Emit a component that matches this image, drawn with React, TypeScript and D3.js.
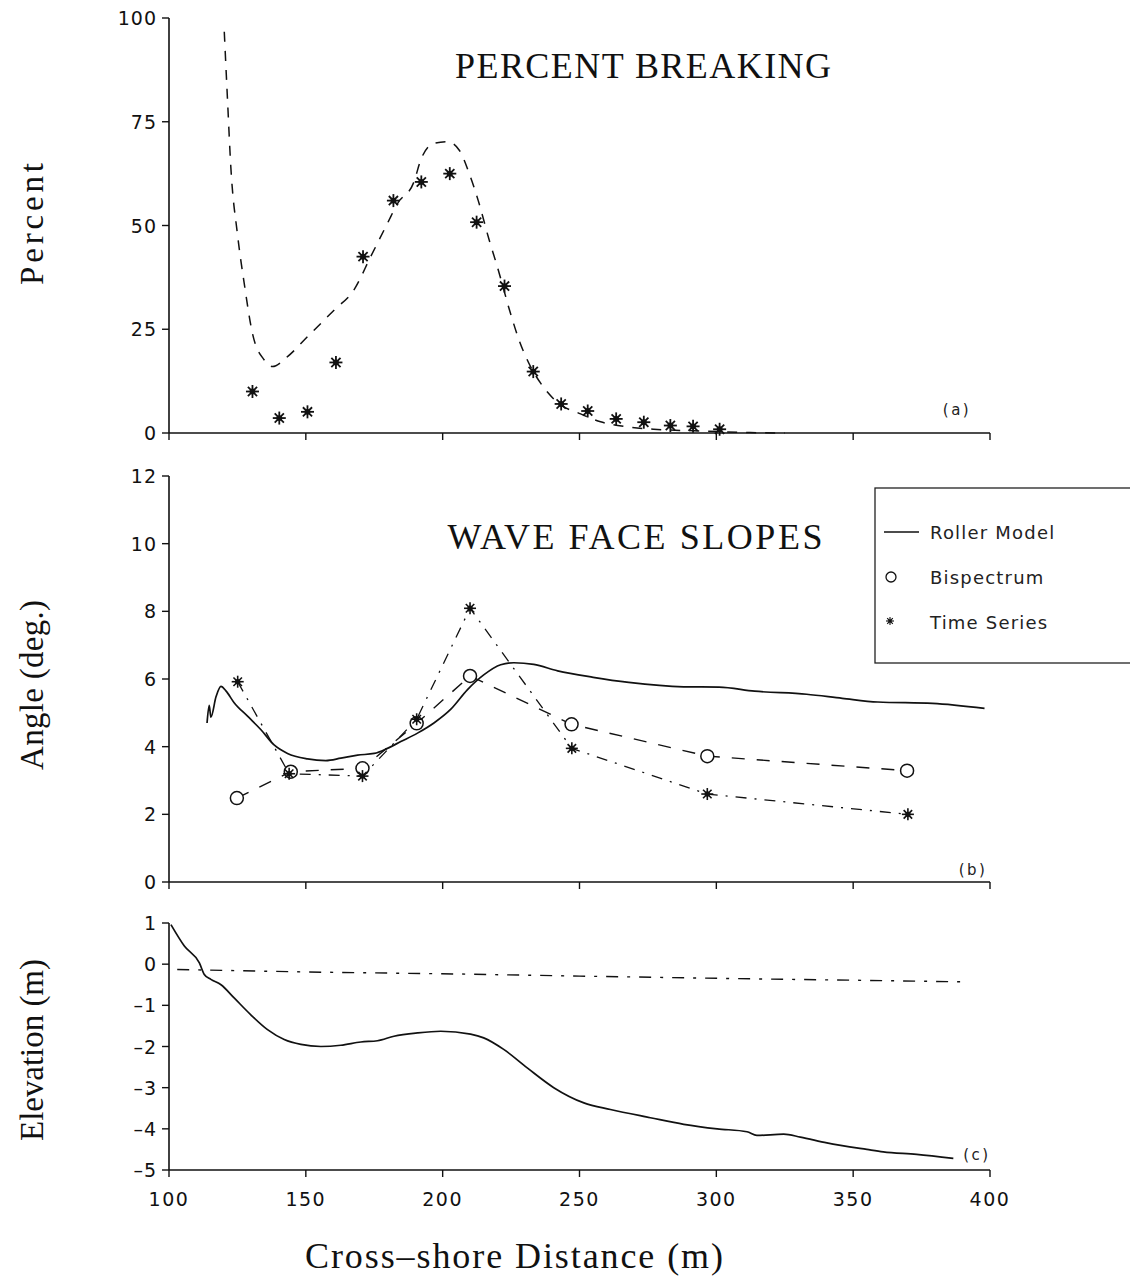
import React, { useRef, useEffect } from 'react';
import * as d3 from 'd3';

// x values are cross-shore distance (m)
const xTicks = [100, 150, 200, 250, 300, 350, 400];

// (a) percent breaking
const pctTicks = [0, 25, 50, 75, 100];
const breakX = [130.5, 140.3, 150.6, 161, 170.9, 182, 192.2, 202.6, 212.4, 222.6, 233.1, 243.3, 253, 263.4, 273.5, 283.2, 291.5, 301.2];
const breakPct = [10, 3.6, 5.1, 17, 42.5, 56, 60.5, 62.5, 50.8, 35.4, 14.8, 7, 5.3, 3.4, 2.6, 1.8, 1.6, 0.9];
const modelX = [120.2, 121.4, 122.6, 125, 127.5, 130.5, 134.8, 137.8, 143.3, 150.6, 160.3, 167.6, 173.7, 179.8, 183.5, 189.5, 192, 196.8, 201.7, 206, 210, 213, 217, 220, 224.8, 227.9, 231.5, 235.8, 241.9, 250.4, 257.7, 267.4, 277.1, 294.2, 312.4, 325];
const modelPct = [96.7, 80, 64, 48, 36, 24, 17.6, 16, 18.4, 23.2, 29.6, 34.5, 42.5, 50.5, 55.3, 60.5, 65.8, 69.8, 70.2, 68.2, 62, 56, 46.5, 40, 28.8, 22.4, 16.8, 12, 7.4, 4.6, 2.7, 1.5, 0.9, 0.5, 0.1, 0];

// (b) wave face slopes
const angTicks = [0, 2, 4, 6, 8, 10, 12];
const rollerX = [113.9, 114.7, 115.3, 117.2, 119, 120.8, 123.8, 128.7, 133.6, 138.4, 143.3, 150.6, 157.3, 162.8, 168.9, 175, 179.8, 184.7, 190.8, 196.8, 202.9, 209, 215, 221.2, 226, 233.3, 242, 255, 268, 288, 301, 314, 333, 346, 359, 379, 398];
const rollerAng = [4.7, 5.22, 4.87, 5.48, 5.78, 5.65, 5.3, 4.9, 4.5, 4.05, 3.8, 3.64, 3.59, 3.66, 3.75, 3.8, 3.95, 4.15, 4.4, 4.7, 5.1, 5.68, 6.12, 6.42, 6.48, 6.43, 6.24, 6.05, 5.9, 5.77, 5.76, 5.64, 5.55, 5.43, 5.32, 5.28, 5.13];
const bispX = [124.8, 144.5, 170.7, 190.5, 210, 247.1, 296.7, 369.7];
const bispAng = [2.48, 3.26, 3.36, 4.69, 6.09, 4.66, 3.72, 3.29];
const tsX = [125.1, 143.9, 170.7, 190.5, 210, 247.2, 296.7, 370];
const tsAng = [5.92, 3.2, 3.13, 4.81, 8.09, 3.95, 2.6, 2.0];

// (c) elevation
const elevTicks = [1, 0, -1, -2, -3, -4, -5];
const bathX = [100.7, 105.6, 111.1, 112.9, 115.3, 119, 123.8, 129.9, 136, 142.1, 148.2, 155.5, 162.8, 170.1, 176.2, 182.2, 190.8, 199.3, 210.2, 215, 222.3, 230.9, 240.6, 251.6, 261.3, 275.9, 288.1, 300.3, 311.2, 314.8, 324.6, 330.7, 340.4, 355, 361, 373.2, 386.6];
const bathZ = [0.96, 0.44, 0.03, -0.25, -0.37, -0.5, -0.82, -1.23, -1.59, -1.83, -1.95, -2.0, -1.97, -1.89, -1.86, -1.75, -1.67, -1.63, -1.7, -1.79, -2.07, -2.52, -3.0, -3.37, -3.53, -3.73, -3.89, -4.0, -4.07, -4.16, -4.13, -4.2, -4.34, -4.5, -4.56, -4.62, -4.72];
const mwlX = [103, 150, 207, 250, 306, 350, 391];
const mwlZ = [-0.13, -0.19, -0.24, -0.29, -0.35, -0.39, -0.43];

const SANS = "'DejaVu Sans', sans-serif";
const SERIF = "'Liberation Serif', 'Times New Roman', serif";

const App = () => {
  const svgRef = useRef(null);

  useEffect(() => {
    const svg = d3.select(svgRef.current);
    svg.selectAll("*").remove();

    const x = d3.scaleLinear().domain([100, 400]).range([169, 990]);
    const x0 = x(100);
    const x1 = x(400);

    const panels = [
      { y: d3.scaleLinear().domain([0, 100]).range([433, 18]), ticks: pctTicks, labels: false, tag: "(a)", tagPos: [957, 415] },
      { y: d3.scaleLinear().domain([0, 12]).range([882, 476]), ticks: angTicks, labels: false, tag: "(b)", tagPos: [973, 875] },
      { y: d3.scaleLinear().domain([-5, 1]).range([1170, 923]), ticks: elevTicks, labels: true, tag: "(c)", tagPos: [977, 1160] },
    ];

    const fmt = d => (d < 0 ? "\u2013" + Math.abs(d) : String(d));

    panels.forEach(p => {
      const g = svg.append("g");
      const [lo, hi] = p.y.domain();
      const yb = p.y(lo);
      // y axis
      g.append("line")
        .attr("x1", x0).attr("x2", x0)
        .attr("y1", p.y(hi)).attr("y2", yb)
        .attr("stroke", "#111").attr("stroke-width", 1.6);
      p.ticks.forEach(t => {
        g.append("line")
          .attr("x1", x0 - 7).attr("x2", x0)
          .attr("y1", p.y(t)).attr("y2", p.y(t))
          .attr("stroke", "#111").attr("stroke-width", 1.4);
        g.append("text")
          .attr("x", x0 - 12).attr("y", p.y(t) + 7)
          .attr("text-anchor", "end")
          .style("font-family", SANS).style("font-size", "19px")
          .style("letter-spacing", "1px")
          .attr("fill", "#111")
          .text(fmt(t));
      });
      // x axis
      g.append("line")
        .attr("x1", x0).attr("x2", x1)
        .attr("y1", yb).attr("y2", yb)
        .attr("stroke", "#111").attr("stroke-width", 1.6);
      xTicks.forEach(t => {
        g.append("line")
          .attr("x1", x(t)).attr("x2", x(t))
          .attr("y1", yb).attr("y2", yb + 7)
          .attr("stroke", "#111").attr("stroke-width", 1.4);
        if (p.labels) {
          g.append("text")
            .attr("x", x(t)).attr("y", yb + 36)
            .attr("text-anchor", "middle")
            .style("font-family", SANS).style("font-size", "19px")
            .style("letter-spacing", "1.5px")
            .attr("fill", "#111")
            .text(t);
        }
      });
      g.append("text")
        .attr("x", p.tagPos[0]).attr("y", p.tagPos[1])
        .attr("text-anchor", "middle")
        .style("font-family", SANS).style("font-size", "15px")
        .style("letter-spacing", "2.5px")
        .attr("fill", "#222")
        .text(p.tag);
    });

    const [pa, pb, pc] = panels;

    const star = (sel, cx, cy, r, w) => {
      [0, 45, 90, 135].forEach(a => {
        const dx = r * Math.cos(a * Math.PI / 180);
        const dy = r * Math.sin(a * Math.PI / 180);
        sel.append("line")
          .attr("x1", cx - dx).attr("y1", cy - dy)
          .attr("x2", cx + dx).attr("y2", cy + dy)
          .attr("stroke", "#111").attr("stroke-width", w);
      });
      sel.append("circle").attr("cx", cx).attr("cy", cy).attr("r", r * 0.45).attr("fill", "#111");
    };

    // (a)
    const lineA = d3.line().x(d => x(d[0])).y(d => pa.y(d[1])).curve(d3.curveMonotoneX);
    svg.append("path")
      .attr("d", lineA(d3.zip(modelX, modelPct)))
      .attr("fill", "none").attr("stroke", "#111").attr("stroke-width", 1.5)
      .attr("stroke-dasharray", "10,9");
    const ga = svg.append("g");
    breakX.forEach((bx, i) => star(ga, x(bx), pa.y(breakPct[i]), 6.5, 1.8));

    svg.append("text")
      .attr("x", 643).attr("y", 78)
      .attr("text-anchor", "middle")
      .attr("textLength", 376)
      .style("font-family", SERIF).style("font-size", "36px")
      .attr("fill", "#111")
      .text("PERCENT BREAKING");

    // (b)
    const lineB = d3.line().x(d => x(d[0])).y(d => pb.y(d[1]));
    svg.append("path")
      .attr("d", lineB.curve(d3.curveMonotoneX)(d3.zip(rollerX, rollerAng)))
      .attr("fill", "none").attr("stroke", "#111").attr("stroke-width", 1.7);
    const lineStraight = d3.line().x(d => x(d[0])).y(d => pb.y(d[1]));
    svg.append("path")
      .attr("d", lineStraight(d3.zip(bispX, bispAng)))
      .attr("fill", "none").attr("stroke", "#111").attr("stroke-width", 1.4)
      .attr("stroke-dasharray", "13,12");
    svg.append("path")
      .attr("d", lineStraight(d3.zip(tsX, tsAng)))
      .attr("fill", "none").attr("stroke", "#111").attr("stroke-width", 1.3)
      .attr("stroke-dasharray", "11,8,2,8");
    const gb = svg.append("g");
    bispX.forEach((bx, i) => {
      gb.append("circle")
        .attr("cx", x(bx)).attr("cy", pb.y(bispAng[i])).attr("r", 6.5)
        .attr("fill", "white").attr("stroke", "#111").attr("stroke-width", 1.5);
    });
    tsX.forEach((tx, i) => star(gb, x(tx), pb.y(tsAng[i]), 6, 1.6));

    svg.append("text")
      .attr("x", 635).attr("y", 549)
      .attr("text-anchor", "middle")
      .attr("textLength", 375)
      .style("font-family", SERIF).style("font-size", "36px")
      .attr("fill", "#111")
      .text("WAVE FACE SLOPES");

    // legend
    const lg = svg.append("g");
    lg.append("rect")
      .attr("x", 875).attr("y", 488).attr("width", 300).attr("height", 175)
      .attr("fill", "white").attr("stroke", "#222").attr("stroke-width", 1.3);
    lg.append("line").attr("x1", 884).attr("x2", 919).attr("y1", 532).attr("y2", 532)
      .attr("stroke", "#111").attr("stroke-width", 1.6);
    lg.append("circle").attr("cx", 891).attr("cy", 577).attr("r", 5)
      .attr("fill", "none").attr("stroke", "#111").attr("stroke-width", 1.3);
    star(lg, 890, 621, 4, 1.1);
    [["Roller Model", 532], ["Bispectrum", 577], ["Time Series", 622]].forEach(([t, yy]) => {
      lg.append("text")
        .attr("x", 930).attr("y", yy + 6.5)
        .style("font-family", SANS).style("font-size", "18px")
        .style("letter-spacing", "1.2px")
        .attr("fill", "#222")
        .text(t);
    });

    // (c)
    const lineC = d3.line().x(d => x(d[0])).y(d => pc.y(d[1]));
    svg.append("path")
      .attr("d", lineC.curve(d3.curveMonotoneX)(d3.zip(bathX, bathZ)))
      .attr("fill", "none").attr("stroke", "#111").attr("stroke-width", 1.7);
    svg.append("path")
      .attr("d", d3.line().x(d => x(d[0])).y(d => pc.y(d[1]))(d3.zip(mwlX, mwlZ)))
      .attr("fill", "none").attr("stroke", "#111").attr("stroke-width", 1.4)
      .attr("stroke-dasharray", "12,9,3,9");

    // axis titles
    const yTitles = [["Percent", 224, 122], ["Angle (deg.)", 685, 170], ["Elevation (m)", 1050, 182]];
    yTitles.forEach(([t, cy, len]) => {
      svg.append("text")
        .attr("transform", `translate(43,${cy}) rotate(-90)`)
        .attr("text-anchor", "middle")
        .attr("textLength", len)
        .style("font-family", SERIF).style("font-size", "33px")
        .attr("fill", "#111")
        .text(t);
    });
    svg.append("text")
      .attr("x", 514).attr("y", 1268)
      .attr("text-anchor", "middle")
      .attr("textLength", 418)
      .style("font-family", SERIF).style("font-size", "36px")
      .attr("fill", "#111")
      .text("Cross\u2013shore Distance (m)");
  }, []);

  return (
    <svg ref={svgRef} width={1130} height={1285}
      style={{ position: "absolute", left: 0, top: 0, background: "white" }} />
  );
};

export default App;
